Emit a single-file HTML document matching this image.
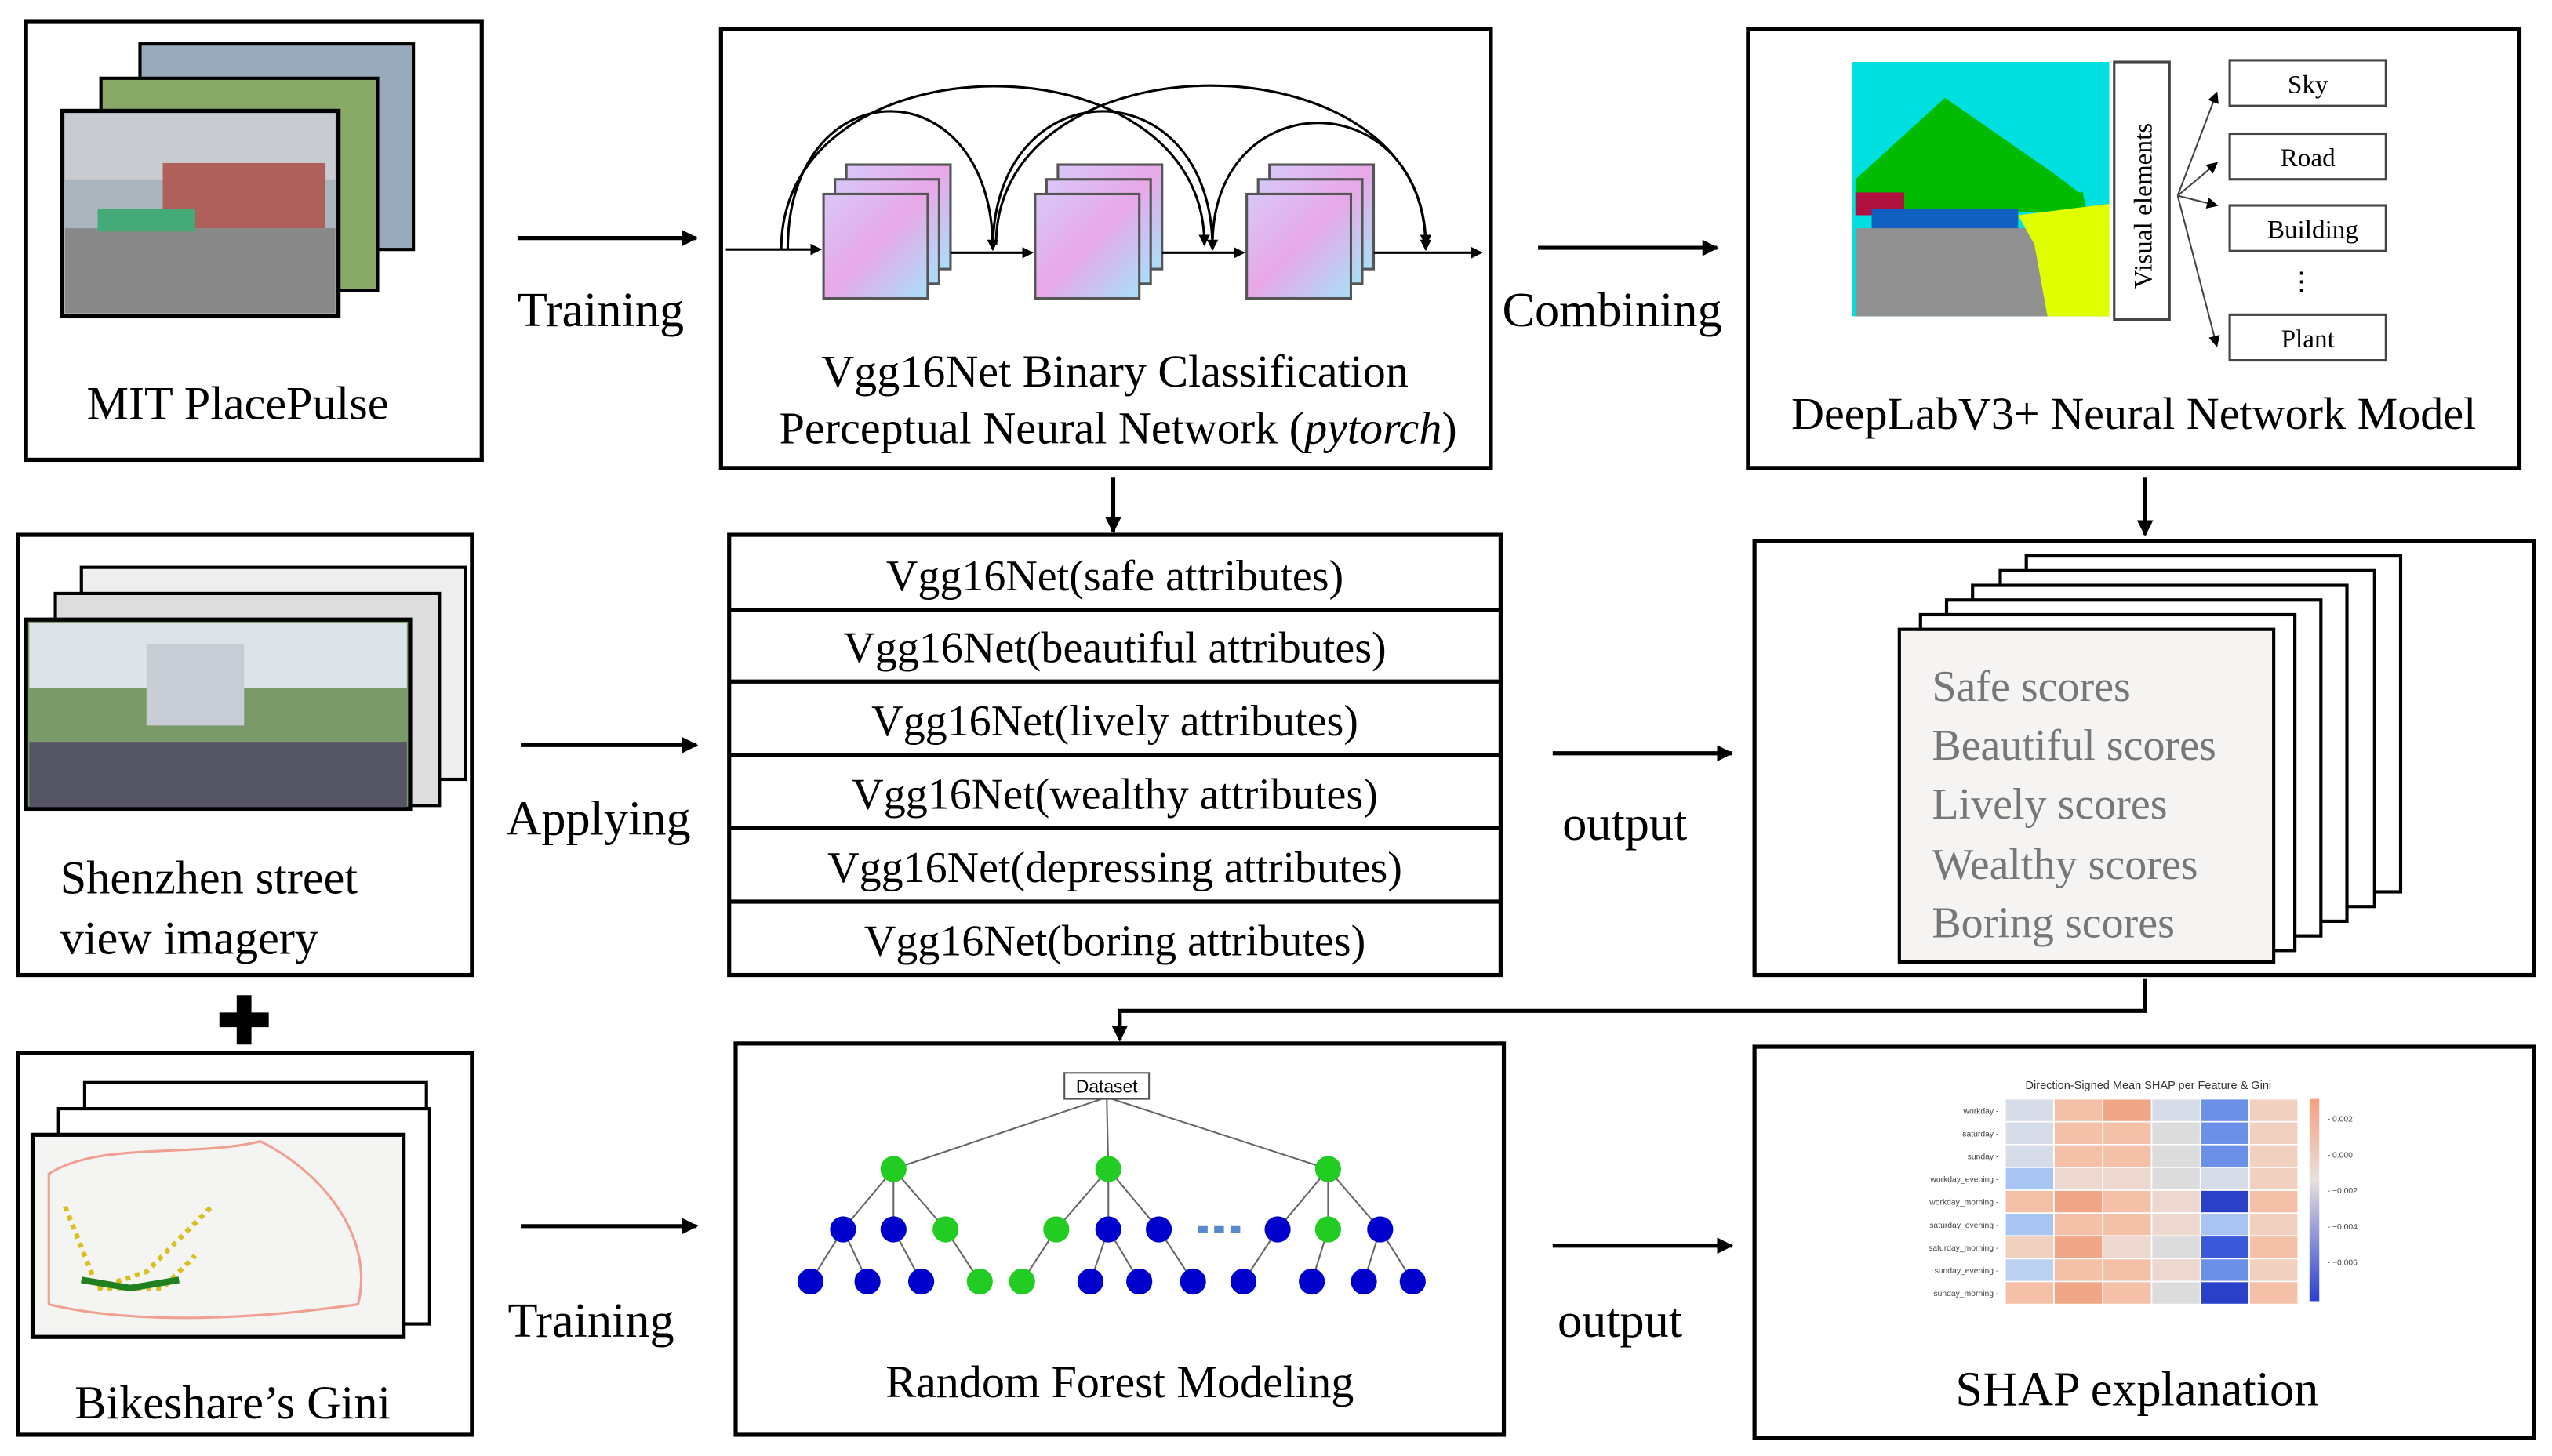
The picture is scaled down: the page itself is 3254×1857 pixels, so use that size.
<!DOCTYPE html>
<html><head><meta charset="utf-8"><style>html,body{margin:0;padding:0;background:#fff}svg{display:block}</style></head><body>
<svg width="3254" height="1857" viewBox="0 0 1568 893" preserveAspectRatio="none" xmlns="http://www.w3.org/2000/svg" font-family="Liberation Serif, serif">
<defs>
<marker id="ah" markerWidth="10" markerHeight="10" refX="9" refY="5" orient="auto" markerUnits="userSpaceOnUse"><path d="M0,0 L10,5 L0,10 z" fill="#000"/></marker>
<marker id="as" markerWidth="7" markerHeight="7" refX="6" refY="3.5" orient="auto" markerUnits="userSpaceOnUse"><path d="M0,0 L7,3.5 L0,7 z" fill="#000"/></marker>
<linearGradient id="cg" x1="0" y1="0" x2="1" y2="1"><stop offset="0" stop-color="#d8c8f8"/><stop offset="0.5" stop-color="#e8a8e8"/><stop offset="1" stop-color="#a8e0f8"/></linearGradient>
<linearGradient id="cb" x1="0" y1="0" x2="0" y2="1"><stop offset="0" stop-color="#f4a080"/><stop offset="0.4" stop-color="#e8e0dc"/><stop offset="1" stop-color="#2a40d0"/></linearGradient>
</defs>
<g fill="none" stroke="#000" stroke-width="2.5">
<rect x="16" y="13" width="280" height="269"/>
<rect x="443" y="18" width="473" height="269"/>
<rect x="1074" y="18" width="474" height="269"/>
<rect x="11" y="328" width="279" height="270"/>
<rect x="448" y="328" width="474" height="270"/>
<rect x="1078" y="332" width="479" height="266"/>
<rect x="11" y="646" width="279" height="234"/>
<rect x="452" y="640" width="472" height="240"/>
<rect x="1078" y="642" width="479" height="240"/>
</g>
<!-- MIT images -->
<rect x="86" y="27" width="168" height="126" fill="#9ab" stroke="#000" stroke-width="2"/>
<rect x="62" y="48" width="170" height="130" fill="#8a6" stroke="#000" stroke-width="2"/>
<rect x="38" y="68" width="170" height="126" fill="#aab4bc" stroke="#000" stroke-width="2.5"/>
<rect x="40" y="70" width="166" height="40" fill="#c8ccd0"/>
<rect x="100" y="100" width="100" height="40" fill="#b0605a"/>
<rect x="40" y="140" width="166" height="52" fill="#888"/>
<rect x="60" y="128" width="60" height="14" fill="#4a7"/>
<text x="146" y="257" font-size="29" text-anchor="middle">MIT PlacePulse</text>
<!-- arrows -->
<g stroke="#000" stroke-width="2.5" marker-end="url(#ah)">
<line x1="318" y1="146" x2="428" y2="146"/>
<line x1="945" y1="152" x2="1055" y2="152"/>
<line x1="320" y1="457" x2="428" y2="457"/>
<line x1="954" y1="462" x2="1064" y2="462"/>
<line x1="320" y1="752" x2="428" y2="752"/>
<line x1="954" y1="764" x2="1064" y2="764"/>
<line x1="684" y1="293" x2="684" y2="326"/>
<line x1="1318" y1="293" x2="1318" y2="328"/>
<polyline points="1318,600 1318,620 688,620 688,638" fill="none"/>
</g>
<g font-size="30">
<text x="318" y="200">Training</text>
<text x="923" y="200">Combining</text>
<text x="311" y="512">Applying</text>
<text x="960" y="515">output</text>
<text x="312" y="820">Training</text>
<text x="957" y="820">output</text>
</g>
<!-- VGG diagram -->
<g stroke="#000" stroke-width="1.5" fill="none">
<path d="M484,153 C484,40 610,40 610,153" marker-end="url(#as)"/>
<path d="M610,153 C610,40 745,40 745,153" marker-end="url(#as)"/>
<path d="M480,153 C480,20 740,20 740,150" marker-end="url(#as)"/>
<path d="M612,150 C612,20 876,20 876,150" marker-end="url(#as)"/>
<path d="M745,150 C745,50 876,50 876,153" marker-end="url(#as)"/>
</g>
<g stroke="#555" stroke-width="1.5" fill="url(#cg)">
<rect x="520" y="101" width="64" height="64"/><rect x="513" y="110" width="64" height="64"/><rect x="506" y="119" width="64" height="64"/>
<rect x="650" y="101" width="64" height="64"/><rect x="643" y="110" width="64" height="64"/><rect x="636" y="119" width="64" height="64"/>
<rect x="780" y="101" width="64" height="64"/><rect x="773" y="110" width="64" height="64"/><rect x="766" y="119" width="64" height="64"/>
</g>
<g stroke="#000" stroke-width="1.5" marker-end="url(#as)">
<line x1="446" y1="153" x2="504" y2="153"/><line x1="584" y1="155" x2="634" y2="155"/><line x1="714" y1="155" x2="764" y2="155"/><line x1="844" y1="155" x2="910" y2="155"/>
</g>
<text x="685" y="237" font-size="28" text-anchor="middle">Vgg16Net Binary Classification</text>
<text x="687" y="272" font-size="28" text-anchor="middle">Perceptual Neural Network (<tspan font-style="italic">pytorch</tspan>)</text>
<!-- DeepLab -->
<rect x="1138" y="38" width="158" height="156" fill="#00e0e0"/>
<polygon points="1140,110 1195,60 1260,105 1280,120 1282,128 1140,128" fill="#00bb00"/>
<rect x="1140" y="118" width="140" height="12" fill="#00bb00"/>
<rect x="1140" y="118" width="30" height="14" fill="#b01040"/>
<rect x="1150" y="128" width="90" height="14" fill="#1060c0"/>
<rect x="1140" y="140" width="156" height="54" fill="#909090"/>
<polygon points="1240,132 1296,125 1296,194 1258,194 1250,150" fill="#e0ff00"/>
<rect x="1299" y="38" width="34" height="158" fill="#fff" stroke="#444" stroke-width="1.5"/>
<text transform="translate(1322,177) rotate(-90)" font-size="16">Visual  elements</text>
<g stroke="#444" stroke-width="1.5" fill="#fff">
<rect x="1370" y="37" width="96" height="28"/><rect x="1370" y="82" width="96" height="28"/><rect x="1370" y="126" width="96" height="28"/><rect x="1370" y="193" width="96" height="28"/>
</g>
<g font-size="16" text-anchor="middle"><text x="1418" y="57">Sky</text><text x="1418" y="102">Road</text><text x="1421" y="146">Building</text><text x="1418" y="213">Plant</text><text x="1414" y="178">⋮</text></g>
<g stroke="#444" stroke-width="1" marker-end="url(#as)">
<line x1="1338" y1="120" x2="1362" y2="57"/><line x1="1338" y1="120" x2="1362" y2="100"/><line x1="1338" y1="120" x2="1362" y2="126"/><line x1="1338" y1="120" x2="1362" y2="212"/>
</g>
<text x="1311" y="263" font-size="28" text-anchor="middle">DeepLabV3+ Neural Network Model</text>
<!-- Shenzhen images -->
<rect x="50" y="348" width="236" height="130" fill="#eee" stroke="#000" stroke-width="2"/>
<rect x="34" y="364" width="236" height="130" fill="#ddd" stroke="#000" stroke-width="2"/>
<rect x="16" y="380" width="236" height="116" fill="#7a9a6a" stroke="#000" stroke-width="2.5"/>
<rect x="18" y="382" width="232" height="40" fill="#dde4e8"/>
<rect x="90" y="395" width="60" height="50" fill="#c8ccd4"/>
<rect x="18" y="455" width="232" height="40" fill="#556"/>
<text x="37" y="548" font-size="29">Shenzhen street</text>
<text x="37" y="585" font-size="29">view imagery</text>
<text x="150" y="640" font-size="40" text-anchor="middle" font-weight="bold" font-family="Liberation Sans, sans-serif">✚</text>
<!-- attributes -->
<g stroke="#000" stroke-width="2.5"><line x1="448" y1="374" x2="922" y2="374"/><line x1="448" y1="418" x2="922" y2="418"/><line x1="448" y1="463" x2="922" y2="463"/><line x1="448" y1="508" x2="922" y2="508"/><line x1="448" y1="553" x2="922" y2="553"/></g>
<g font-size="27" text-anchor="middle">
<text x="685" y="362">Vgg16Net(safe attributes)</text>
<text x="685" y="406">Vgg16Net(beautiful attributes)</text>
<text x="685" y="451">Vgg16Net(lively attributes)</text>
<text x="685" y="496">Vgg16Net(wealthy attributes)</text>
<text x="685" y="541">Vgg16Net(depressing attributes)</text>
<text x="685" y="586">Vgg16Net(boring attributes)</text>
</g>
<!-- score stack -->
<g stroke="#000" stroke-width="2" fill="#fff">
<rect x="1245" y="341" width="230" height="206"/><rect x="1229" y="350" width="230" height="206"/><rect x="1212" y="359" width="230" height="206"/><rect x="1196" y="368" width="230" height="206"/><rect x="1180" y="377" width="230" height="206"/>
<rect x="1167" y="386" width="230" height="204" fill="#f6f4f2"/>
</g>
<g font-size="27" fill="#777"><text x="1187" y="430">Safe scores</text><text x="1187" y="466">Beautiful scores</text><text x="1187" y="502">Lively  scores</text><text x="1187" y="539">Wealthy  scores</text><text x="1187" y="575">Boring scores</text></g>
<!-- Bikeshare -->
<rect x="52" y="664" width="210" height="136" fill="#fff" stroke="#000" stroke-width="2"/>
<rect x="36" y="680" width="228" height="132" fill="#fff" stroke="#000" stroke-width="2"/>
<rect x="20" y="696" width="228" height="124" fill="#f4f4f2" stroke="#000" stroke-width="2.5"/>
<path d="M30,720 C60,700 120,710 160,700 C200,720 230,760 220,800 C150,810 80,812 30,800 Z" fill="none" stroke="#f0a090" stroke-width="1.5"/>
<path d="M40,740 L60,790 L90,780 L110,760 L130,740 M60,790 L100,790 L120,770" fill="none" stroke="#d8c020" stroke-width="3" stroke-dasharray="3 3"/>
<path d="M50,785 L80,790 L110,785" stroke="#208020" stroke-width="4" fill="none"/>
<text x="143" y="870" font-size="29" text-anchor="middle">Bikeshare’s Gini</text>
<!-- Random forest -->
<g stroke="#666" stroke-width="1">
<line x1="680" y1="673" x2="549" y2="717"/><line x1="680" y1="673" x2="681" y2="717"/><line x1="680" y1="673" x2="816" y2="717"/>
<line x1="549" y1="717" x2="518" y2="754"/><line x1="549" y1="717" x2="549" y2="754"/><line x1="549" y1="717" x2="581" y2="754"/>
<line x1="681" y1="717" x2="649" y2="754"/><line x1="681" y1="717" x2="681" y2="754"/><line x1="681" y1="717" x2="712" y2="754"/>
<line x1="816" y1="717" x2="785" y2="754"/><line x1="816" y1="717" x2="816" y2="754"/><line x1="816" y1="717" x2="848" y2="754"/>
<line x1="518" y1="754" x2="498" y2="786"/><line x1="518" y1="754" x2="533" y2="786"/><line x1="549" y1="754" x2="566" y2="786"/><line x1="581" y1="754" x2="602" y2="786"/>
<line x1="649" y1="754" x2="628" y2="786"/><line x1="681" y1="754" x2="670" y2="786"/><line x1="681" y1="754" x2="700" y2="786"/><line x1="712" y1="754" x2="733" y2="786"/>
<line x1="785" y1="754" x2="764" y2="786"/><line x1="816" y1="754" x2="806" y2="786"/><line x1="848" y1="754" x2="838" y2="786"/><line x1="848" y1="754" x2="868" y2="786"/>
</g>
<rect x="654" y="658" width="52" height="16" fill="#fff" stroke="#555"/>
<text x="680" y="670" font-size="11" text-anchor="middle" font-family="Liberation Sans, sans-serif">Dataset</text>
<g fill="#22cc22"><circle cx="549" cy="717" r="8"/><circle cx="681" cy="717" r="8"/><circle cx="816" cy="717" r="8"/><circle cx="581" cy="754" r="8"/><circle cx="649" cy="754" r="8"/><circle cx="816" cy="754" r="8"/><circle cx="602" cy="786" r="8"/><circle cx="628" cy="786" r="8"/></g>
<g fill="#0000cc"><circle cx="518" cy="754" r="8"/><circle cx="549" cy="754" r="8"/><circle cx="681" cy="754" r="8"/><circle cx="712" cy="754" r="8"/><circle cx="785" cy="754" r="8"/><circle cx="848" cy="754" r="8"/>
<circle cx="498" cy="786" r="8"/><circle cx="533" cy="786" r="8"/><circle cx="566" cy="786" r="8"/><circle cx="670" cy="786" r="8"/><circle cx="700" cy="786" r="8"/><circle cx="733" cy="786" r="8"/><circle cx="764" cy="786" r="8"/><circle cx="806" cy="786" r="8"/><circle cx="838" cy="786" r="8"/><circle cx="868" cy="786" r="8"/></g>
<g fill="#5588cc"><rect x="736" y="752" width="6" height="4"/><rect x="746" y="752" width="6" height="4"/><rect x="756" y="752" width="6" height="4"/></g>
<text x="688" y="857" font-size="28" text-anchor="middle">Random Forest Modeling</text>
<!-- SHAP heatmap -->
<text x="1320" y="668" font-size="7" text-anchor="middle" font-family="Liberation Sans, sans-serif" fill="#333">Direction-Signed Mean SHAP per Feature &amp; Gini</text>
<g stroke="#fff" stroke-width="0.8">
<!-- cols x: 1232,1262,1292,1322,1352,1382 w30; rows y: 674.. h 13.7 -->
<rect x="1232" y="674" width="30" height="14" fill="#d6dce8"/><rect x="1262" y="674" width="30" height="14" fill="#f4c0a8"/><rect x="1292" y="674" width="30" height="14" fill="#f2a688"/><rect x="1322" y="674" width="30" height="14" fill="#d6dce8"/><rect x="1352" y="674" width="30" height="14" fill="#6a90e8"/><rect x="1382" y="674" width="30" height="14" fill="#f2d0c0"/>
<rect x="1232" y="688" width="30" height="14" fill="#d6dce8"/><rect x="1262" y="688" width="30" height="14" fill="#f4c0a8"/><rect x="1292" y="688" width="30" height="14" fill="#f4c0a8"/><rect x="1322" y="688" width="30" height="14" fill="#dcdcdc"/><rect x="1352" y="688" width="30" height="14" fill="#6a90e8"/><rect x="1382" y="688" width="30" height="14" fill="#f2d0c0"/>
<rect x="1232" y="702" width="30" height="14" fill="#d6dce8"/><rect x="1262" y="702" width="30" height="14" fill="#f4c0a8"/><rect x="1292" y="702" width="30" height="14" fill="#f4c0a8"/><rect x="1322" y="702" width="30" height="14" fill="#dcdcdc"/><rect x="1352" y="702" width="30" height="14" fill="#6a90e8"/><rect x="1382" y="702" width="30" height="14" fill="#f2d0c0"/>
<rect x="1232" y="716" width="30" height="14" fill="#a8c4f0"/><rect x="1262" y="716" width="30" height="14" fill="#ecd8ce"/><rect x="1292" y="716" width="30" height="14" fill="#ecd8ce"/><rect x="1322" y="716" width="30" height="14" fill="#dcdcdc"/><rect x="1352" y="716" width="30" height="14" fill="#d6dce8"/><rect x="1382" y="716" width="30" height="14" fill="#f2d0c0"/>
<rect x="1232" y="730" width="30" height="14" fill="#f4c0a8"/><rect x="1262" y="730" width="30" height="14" fill="#f2a688"/><rect x="1292" y="730" width="30" height="14" fill="#f4c0a8"/><rect x="1322" y="730" width="30" height="14" fill="#ecd8ce"/><rect x="1352" y="730" width="30" height="14" fill="#2a40c8"/><rect x="1382" y="730" width="30" height="14" fill="#f4c0a8"/>
<rect x="1232" y="744" width="30" height="14" fill="#a8c4f0"/><rect x="1262" y="744" width="30" height="14" fill="#f4c0a8"/><rect x="1292" y="744" width="30" height="14" fill="#f4c0a8"/><rect x="1322" y="744" width="30" height="14" fill="#ecd8ce"/><rect x="1352" y="744" width="30" height="14" fill="#a8c4f0"/><rect x="1382" y="744" width="30" height="14" fill="#f2d0c0"/>
<rect x="1232" y="758" width="30" height="14" fill="#f2d0c0"/><rect x="1262" y="758" width="30" height="14" fill="#f2a688"/><rect x="1292" y="758" width="30" height="14" fill="#ecd8ce"/><rect x="1322" y="758" width="30" height="14" fill="#dcdcdc"/><rect x="1352" y="758" width="30" height="14" fill="#3a58d8"/><rect x="1382" y="758" width="30" height="14" fill="#f4c0a8"/>
<rect x="1232" y="772" width="30" height="14" fill="#bcd0f0"/><rect x="1262" y="772" width="30" height="14" fill="#f4c0a8"/><rect x="1292" y="772" width="30" height="14" fill="#f4c0a8"/><rect x="1322" y="772" width="30" height="14" fill="#ecd8ce"/><rect x="1352" y="772" width="30" height="14" fill="#6a90e8"/><rect x="1382" y="772" width="30" height="14" fill="#f2d0c0"/>
<rect x="1232" y="786" width="30" height="14" fill="#f4c0a8"/><rect x="1262" y="786" width="30" height="14" fill="#f2a688"/><rect x="1292" y="786" width="30" height="14" fill="#f4c0a8"/><rect x="1322" y="786" width="30" height="14" fill="#dcdcdc"/><rect x="1352" y="786" width="30" height="14" fill="#2a40c8"/><rect x="1382" y="786" width="30" height="14" fill="#f4c0a8"/>
</g>
<rect x="1419" y="674" width="6" height="124" fill="url(#cb)"/>
<g font-size="5" fill="#444" font-family="Liberation Sans, sans-serif" text-anchor="end">
<text x="1228" y="683">workday -</text><text x="1228" y="697">saturday -</text><text x="1228" y="711">sunday -</text><text x="1228" y="725">workday_evening -</text><text x="1228" y="739">workday_morning -</text><text x="1228" y="753">saturday_evening -</text><text x="1228" y="767">saturday_morning -</text><text x="1228" y="781">sunday_evening -</text><text x="1228" y="795">sunday_morning -</text>
</g>
<g font-size="5" fill="#444" font-family="Liberation Sans, sans-serif"><text x="1430" y="688">- 0.002</text><text x="1430" y="710">- 0.000</text><text x="1430" y="732">- −0.002</text><text x="1430" y="754">- −0.004</text><text x="1430" y="776">- −0.006</text></g>
<text x="1313" y="862" font-size="30" text-anchor="middle">SHAP explanation</text>
</svg>
</body></html>
